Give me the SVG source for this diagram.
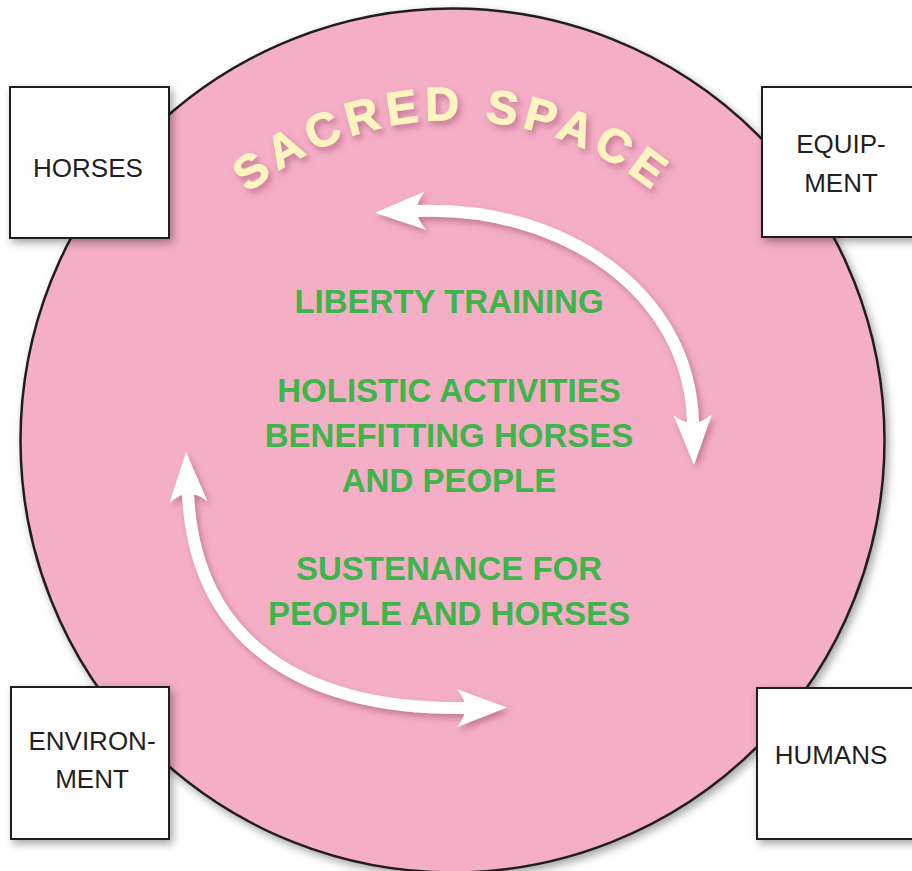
<svg xmlns="http://www.w3.org/2000/svg" width="912" height="871" viewBox="0 0 912 871">
<style>
.box{fill:#ffffff;stroke:#231f20;stroke-width:2}
.lbl{font-family:"Liberation Sans",Arial,sans-serif;font-size:26px;fill:#231f20;text-anchor:middle}
.grn{font-family:"Liberation Sans",Arial,sans-serif;font-weight:bold;font-size:33px;fill:#3db54a;text-anchor:middle}
.shaft{fill:none;stroke:#ffffff;stroke-width:12}
.title{font-family:"Liberation Sans",Arial,sans-serif;font-weight:bold;font-size:47px;fill:#fdf5c0;letter-spacing:6px;stroke:#fdf5c0;stroke-width:1}
</style>
<defs>
<filter id="sh" x="-10%" y="-10%" width="120%" height="120%">
<feDropShadow dx="3" dy="4" stdDeviation="4" flood-color="#000000" flood-opacity="0.35"/>
</filter>
<filter id="shp" x="-20%" y="-20%" width="140%" height="140%">
<feDropShadow dx="3" dy="4" stdDeviation="3" flood-color="#a0506e" flood-opacity="0.55"/>
</filter>
<marker id="head" markerUnits="userSpaceOnUse" viewBox="-10 -22 60 44" markerWidth="60" markerHeight="44" refX="0" refY="0" orient="auto-start-reverse">
<path d="M42,0 L-8,-19 Q1,-7 0,0 Q1,7 -8,19 Z" fill="#ffffff"/>
</marker>
<path id="arc" d="M174.9,280 A320,320 0 0 1 729.1,280"/>
</defs>

<g id="sacred-space">
<circle cx="452.5" cy="440.5" r="432" fill="#f4aec6" stroke="#231f20" stroke-width="2.5" filter="url(#sh)"/>
<text class="title" filter="url(#shp)"><textPath href="#arc" startOffset="50%" text-anchor="middle">SACRED SPACE</textPath></text>
</g>

<g id="horses">
<rect class="box" x="10" y="87" width="159" height="151" filter="url(#sh)"/>
<text class="lbl" x="88" y="177">HORSES</text>
</g>

<g id="equipment">
<rect class="box" x="762" y="87" width="170" height="150" filter="url(#sh)"/>
<text class="lbl" x="841" y="153">EQUIP-</text>
<text class="lbl" x="841" y="192">MENT</text>
</g>

<g id="environment">
<rect class="box" x="11" y="687" width="158" height="152" filter="url(#sh)"/>
<text class="lbl" x="92" y="750">ENVIRON-</text>
<text class="lbl" x="92" y="788">MENT</text>
</g>

<g id="humans">
<rect class="box" x="757" y="688" width="175" height="151" filter="url(#sh)"/>
<text class="lbl" x="831" y="764">HUMANS</text>
</g>

<g id="activities">
<text class="grn" x="449" y="313">LIBERTY TRAINING</text>
<text class="grn" x="449" y="402">HOLISTIC ACTIVITIES</text>
<text class="grn" x="449" y="447">BENEFITTING HORSES</text>
<text class="grn" x="449" y="492">AND PEOPLE</text>
<text class="grn" x="449" y="580">SUSTENANCE FOR</text>
<text class="grn" x="449" y="625">PEOPLE AND HORSES</text>
</g>

<g id="connectors" filter="url(#shp)">
<path class="shaft" d="M417,211 C560,205 690,290 693,423" marker-start="url(#head)" marker-end="url(#head)"/>
<path class="shaft" d="M188,494 C195,640 300,710 465,708" marker-start="url(#head)" marker-end="url(#head)"/>
</g>
</svg>
